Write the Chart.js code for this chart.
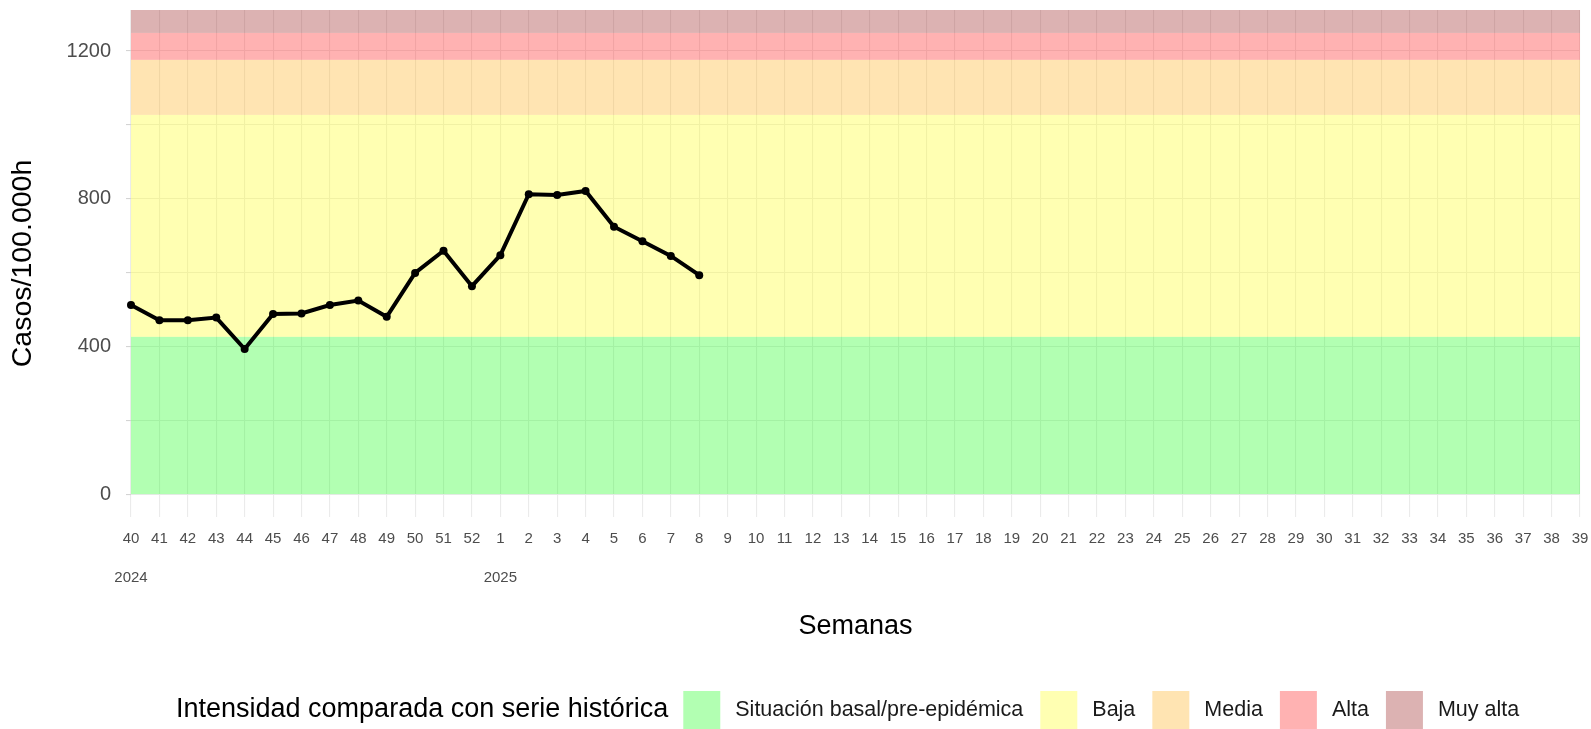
<!DOCTYPE html>
<html>
<head>
<meta charset="utf-8">
<script src="https://cdn.jsdelivr.net/npm/chart.js@4.4.1/dist/chart.umd.min.js"></script>
<style>
  html, body { margin: 0; padding: 0; background: #fff; }
  #wrap { width: 1591px; height: 729px; }
</style>
</head>
<body>
<div id="wrap"><canvas id="chart" width="1591" height="729"></canvas></div>
<script>
// semanas epidemiológicas (temporada 2024-2025)
const weeks = ["40","41","42","43","44","45","46","47","48","49","50","51","52",
  "1","2","3","4","5","6","7","8","9","10","11","12","13","14","15","16","17","18","19","20",
  "21","22","23","24","25","26","27","28","29","30","31","32","33","34","35","36","37","38","39"];
const yearLabels = ["2024","","","","","","","","","","","","",
  "2025","","","","","","","","","","","","","","","","","","","",
  "","","","","","","","","","","","","","","","","","",""];

// tasa por 100.000 habitantes, semanas 40 a 8
const casos = [512, 471, 471, 478, 393, 488, 489, 512, 524, 480, 599, 659, 563,
  647, 812, 810, 821, 724, 685, 645, 593];

const yTicks = [0, 200, 400, 600, 800, 1000, 1200];
const yLabelTicks = [0, 400, 800, 1200];

// umbrales de intensidad
const bandNames = ["Situación basal/pre-epidémica", "Baja", "Media", "Alta", "Muy alta"];
const bandLow = [0, 426, 1027, 1176, 1249];
const bandHigh = [426, 1027, 1176, 1249, Infinity];
const bandColors = ["rgba(0,255,0,0.3)", "rgba(255,255,0,0.3)", "rgba(255,165,0,0.3)",
  "rgba(255,0,0,0.3)", "rgba(139,0,0,0.3)"];

const FONT = "'Liberation Sans', Arial, sans-serif";

const bandsPlugin = {
  id: "bands",
  beforeDatasetsDraw(chart) {
    const { ctx, chartArea: a, scales: { y } } = chart;
    ctx.save();
    for (let i = 0; i < bandNames.length; i++) {
      const top = bandHigh[i] === Infinity ? a.top : Math.max(a.top, y.getPixelForValue(bandHigh[i]));
      const bottom = y.getPixelForValue(bandLow[i]);
      ctx.fillStyle = bandColors[i];
      ctx.fillRect(a.left, top, a.right - a.left, bottom - top);
    }
    ctx.restore();
  }
};

const legendPlugin = {
  id: "intensityLegend",
  afterDraw(chart) {
    const ctx = chart.ctx;
    const cy = 710;
    ctx.save();
    ctx.textBaseline = "middle";
    ctx.fillStyle = "#000";
    ctx.font = "27px " + FONT;
    let x = 176;
    const title = "Intensidad comparada con serie histórica";
    ctx.fillText(title, x, cy);
    x += ctx.measureText(title).width + 15;
    ctx.font = "21.5px " + FONT;
    for (let i = 0; i < bandNames.length; i++) {
      ctx.fillStyle = "#fff";
      ctx.fillRect(x, cy - 19, 37, 38);
      ctx.fillStyle = bandColors[i];
      ctx.fillRect(x, cy - 19, 37, 38);
      x += 37 + 15;
      ctx.fillStyle = "#1a1a1a";
      ctx.fillText(bandNames[i], x, cy);
      x += ctx.measureText(bandNames[i]).width + 17;
    }
    ctx.restore();
  }
};

new Chart(document.getElementById("chart"), {
  type: "line",
  data: {
    labels: weeks,
    datasets: [{
      label: "Casos/100.000h",
      data: casos,
      borderColor: "#000",
      backgroundColor: "#000",
      borderWidth: 4,
      pointRadius: 4,
      pointBorderWidth: 0,
      tension: 0,
      fill: false
    }]
  },
  options: {
    responsive: false,
    animation: false,
    layout: { padding: { top: 10, right: 11, bottom: 0, left: 0 } },
    plugins: {
      legend: { display: false },
      tooltip: { enabled: false }
    },
    scales: {
      x: {
        offset: false,
        afterFit(scale) {
          scale.height = 212;
          scale.paddingLeft = 0;
          scale.paddingRight = 0;
        },
        grid: { color: "#ebebeb", lineWidth: 1.1, drawTicks: false },
        border: { display: false },
        ticks: {
          autoSkip: false,
          maxRotation: 0,
          padding: 12,
          color: "#4d4d4d",
          font: { family: FONT, size: 15, lineHeight: 1.3 },
          callback(val, i) {
            return yearLabels[i] ? [weeks[i], "", yearLabels[i]] : weeks[i];
          }
        },
        title: {
          display: true,
          text: "Semanas",
          color: "#000",
          font: { family: FONT, size: 27 },
          padding: { top: 0, bottom: 86 }
        }
      },
      y: {
        min: -62,
        max: 1311,
        afterFit(scale) {
          scale.width = 131;
          scale.paddingTop = 0;
          scale.paddingBottom = 0;
        },
        afterBuildTicks(scale) { scale.ticks = yTicks.map(v => ({ value: v })); },
        grid: { color: "#ebebeb", lineWidth: 1.1, tickLength: 5, tickColor: "#d4d4d4" },
        border: { display: false },
        ticks: {
          padding: 15,
          color: "#4d4d4d",
          font: { family: FONT, size: 20 },
          callback(val) { return yLabelTicks.includes(val) ? String(val) : ""; }
        },
        title: {
          display: true,
          text: "Casos/100.000h",
          color: "#000",
          font: { family: FONT, size: 28.5 },
          padding: { top: 6, bottom: 0 }
        }
      }
    }
  },
  plugins: [bandsPlugin, legendPlugin]
});
</script>
</body>
</html>
